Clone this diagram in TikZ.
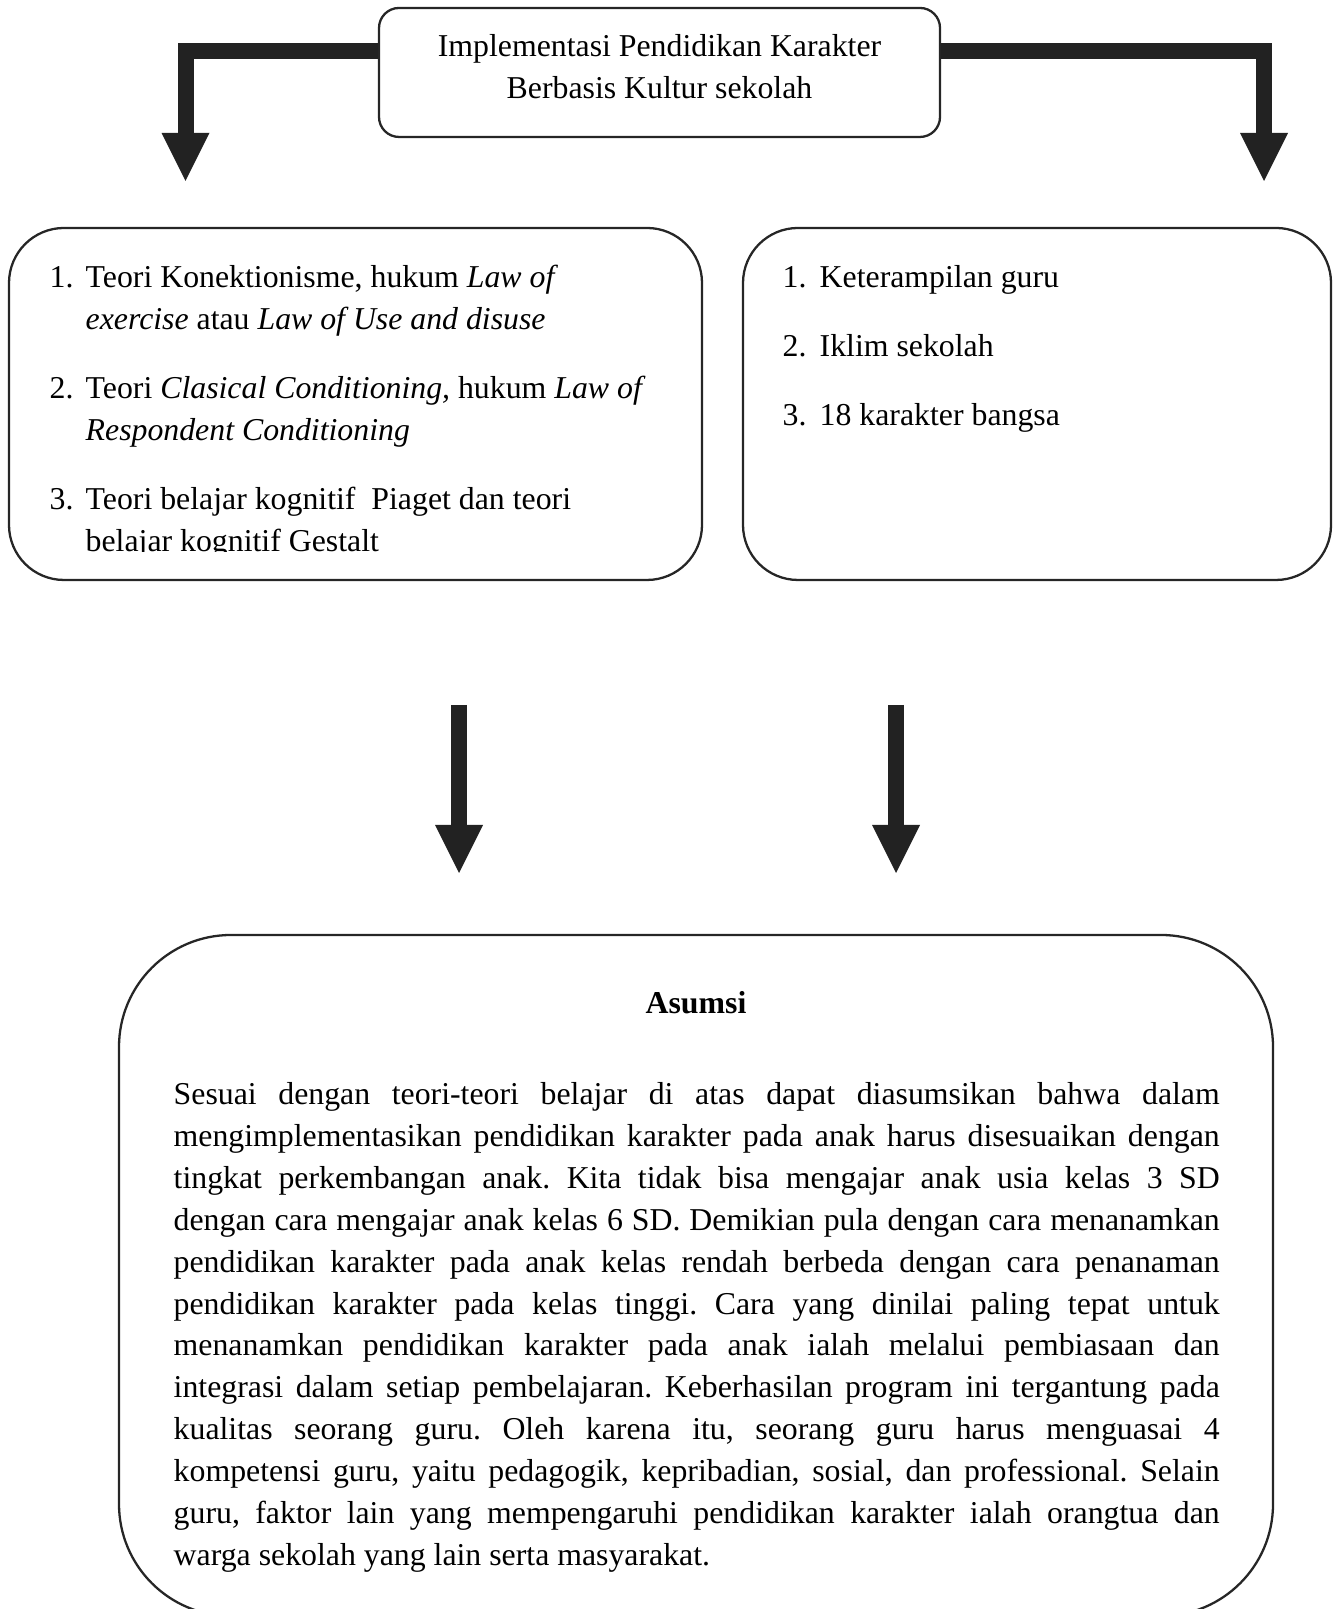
\documentclass[tikz,border=0pt]{standalone}
\usepackage{fontspec}
\setmainfont{Liberation Serif}
\usepackage{tikz}
\usetikzlibrary{arrows.meta}
\frenchspacing

\definecolor{boxline}{HTML}{262626}
\definecolor{arrowgray}{HTML}{222222}

\tikzset{
  roundbox/.style={draw=boxline, line width=0.65pt, rounded corners=#1, inner sep=0pt},
  fatarrow/.style={draw=arrowgray, line width=0.16cm, -{Triangle[width=0.48cm,length=0.48cm,line width=0pt]}},
  bodytext/.style={inner sep=0pt, font=\fontsize{9.05}{11.9}\selectfont}
}

\begin{document}
\begin{tikzpicture}
  \useasboundingbox (0,0) rectangle (13.38,16.09);
  %\draw [help lines] (0,0) grid (13,16);
  \node [roundbox=0.2cm, minimum width=5.61cm, minimum height=1.29cm] (topbox) at (6.595,15.365) {};
  \node [roundbox=0.55cm, minimum width=6.93cm, minimum height=3.52cm] (teoribox) at (3.555,12.05) {};
  \node [roundbox=0.55cm, minimum width=5.88cm, minimum height=3.52cm] (faktorbox) at (10.37,12.05) {};
  \node [roundbox=1.12cm, minimum width=11.54cm, minimum height=6.81cm] (asumsibox) at (6.96,3.335) {};
  %Panah atas
  \coordinate (tipL) at (1.855,14.28);
  \coordinate (tipR) at (12.64,14.28);
  \draw [fatarrow] ([yshift=0.215cm]topbox.west) -| (tipL);
  \draw [fatarrow] ([yshift=0.215cm]topbox.east) -| (tipR);
  %Panah tengah
  \coordinate (startA) at (4.59,9.04);
  \coordinate (endA) at (4.59,7.36);
  \coordinate (startB) at (8.96,9.04);
  \coordinate (endB) at (8.96,7.36);
  \draw [fatarrow] (startA) -- (endA);
  \draw [fatarrow] (startB) -- (endB);
  %Teks
  \node [bodytext, anchor=base] (judul) at (6.595,15.52) {\parbox[t]{5.61cm}{\centering Implementasi Pendidikan Karakter\\Berbasis Kultur sekolah}};
  \begin{scope}
    \clip (0,10.57) rectangle (13.38,16.09);
    \node [bodytext, anchor=base west] (teori) at (0.49,13.21) {\begin{tabular}[t]{@{}p{0.36cm}@{}l@{}}
      1. & Teori Konektionisme, hukum \textit{Law of}\\
         & \textit{exercise} atau \textit{Law of Use and disuse}\\[7.7pt]
      2. & Teori \textit{Clasical Conditioning,} hukum \textit{Law of}\\
         & \textit{Respondent Conditioning}\\[7.7pt]
      3. & Teori belajar kognitif \ Piaget dan teori\\
         & belajar kognitif Gestalt
    \end{tabular}};
  \end{scope}
  \node [bodytext, anchor=base west] (faktor) at (7.82,13.21) {\begin{tabular}[t]{@{}p{0.37cm}@{}l@{}}
      1. & Keterampilan guru\\[7.7pt]
      2. & Iklim sekolah\\[7.7pt]
      3. & 18 karakter bangsa
    \end{tabular}};
  \node [bodytext, anchor=base] (asumsi) at (6.96,5.95) {\textbf{Asumsi}};
  \node [bodytext, anchor=base west] (isi) at (1.73,5.04) {\parbox[t]{10.46cm}{\tolerance=10000\hyphenpenalty=10000
    Sesuai dengan teori-teori belajar di atas dapat diasumsikan bahwa dalam\linebreak
    mengimplementasikan pendidikan karakter pada anak harus disesuaikan dengan\linebreak
    tingkat perkembangan anak. Kita tidak bisa mengajar anak usia kelas 3 SD\linebreak
    dengan cara mengajar anak kelas 6 SD. Demikian pula dengan cara menanamkan\linebreak
    pendidikan karakter pada anak kelas rendah berbeda dengan cara penanaman\linebreak
    pendidikan karakter pada kelas tinggi. Cara yang dinilai paling tepat untuk\linebreak
    menanamkan pendidikan karakter pada anak ialah melalui pembiasaan dan\linebreak
    integrasi dalam setiap pembelajaran. Keberhasilan program ini tergantung pada\linebreak
    kualitas seorang guru. Oleh karena itu, seorang guru harus menguasai 4\linebreak
    kompetensi guru, yaitu pedagogik, kepribadian, sosial, dan professional. Selain\linebreak
    guru, faktor lain yang mempengaruhi pendidikan karakter ialah orangtua dan\linebreak
    warga sekolah yang lain serta masyarakat.}};
\end{tikzpicture}
\end{document}
